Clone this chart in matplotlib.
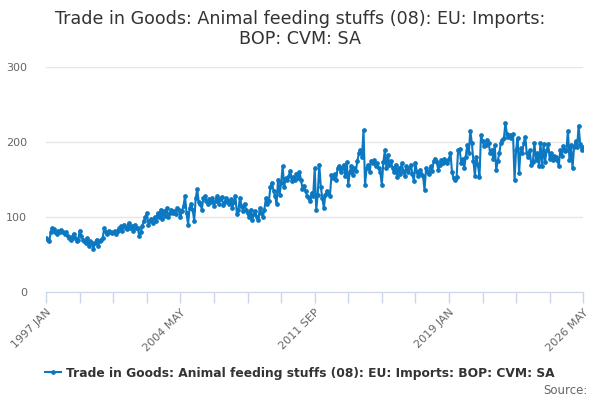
import matplotlib
matplotlib.use('Agg')
import matplotlib.pyplot as plt
import numpy as np

# monthly values, 1997 JAN .. 2026 MAY
y1997 = [72, 70, 68, 80, 85, 84, 80, 78, 82, 80, 83, 80]
y1998 = [78, 80, 75, 72, 70, 74, 78, 72, 68, 70, 82, 75]
y1999 = [70, 68, 65, 72, 62, 68, 65, 58, 66, 70, 62, 68]
y2000 = [70, 72, 85, 80, 78, 82, 80, 79, 80, 81, 78, 82]
y2001 = [85, 88, 82, 90, 86, 84, 92, 85, 88, 82, 90, 86]
y2002 = [85, 75, 80, 88, 95, 100, 105, 90, 95, 98, 92, 100]
y2003 = [95, 105, 100, 110, 98, 108, 102, 112, 100, 105, 110, 106]
y2004 = [108, 104, 112, 110, 100, 108, 115, 128, 105, 90, 112, 118]
y2005 = [110, 95, 125, 137, 120, 118, 110, 125, 128, 122, 118, 124]
y2006 = [120, 126, 115, 122, 128, 118, 124, 127, 116, 120, 125, 122]
y2007 = [118, 124, 112, 120, 128, 104, 110, 126, 115, 108, 118, 110]
y2008 = [105, 100, 110, 96, 104, 108, 100, 96, 112, 106, 100, 110]
y2009 = [125, 118, 122, 140, 146, 135, 128, 118, 150, 130, 145, 168]
y2010 = [140, 152, 150, 155, 162, 148, 154, 150, 158, 152, 160, 150]
y2011 = [138, 142, 135, 128, 125, 122, 132, 128, 165, 110, 130, 170]
y2012 = [140, 125, 112, 130, 135, 132, 128, 156, 152, 158, 150, 165]
y2013 = [168, 160, 165, 170, 155, 173, 143, 160, 168, 156, 165, 162]
y2014 = [175, 185, 189, 180, 216, 143, 165, 170, 160, 175, 172, 176]
y2015 = [168, 172, 165, 160, 143, 173, 189, 165, 183, 170, 175, 165]
y2016 = [160, 170, 153, 165, 158, 172, 162, 155, 168, 160, 165, 170]
y2017 = [158, 148, 172, 160, 155, 163, 158, 155, 136, 165, 160, 158]
y2018 = [168, 162, 175, 178, 173, 163, 170, 176, 172, 178, 175, 172]
y2019 = [178, 185, 160, 152, 150, 153, 189, 191, 172, 178, 165, 180]
y2020 = [196, 185, 215, 199, 175, 155, 180, 170, 153, 209, 201, 195]
y2021 = [196, 203, 199, 185, 190, 178, 196, 163, 175, 185, 199, 203]
y2022 = [205, 225, 211, 207, 209, 205, 211, 149, 189, 205, 159, 192]
y2023 = [185, 199, 207, 185, 180, 189, 169, 173, 199, 176, 185, 168]
y2024 = [199, 168, 197, 173, 189, 197, 178, 185, 176, 182, 180, 176]
y2025 = [168, 190, 181, 195, 188, 190, 215, 176, 196, 165, 193, 201]
y2026 = [193, 222, 197, 189, 193]

values = (y1997 + y1998 + y1999 + y2000 + y2001 + y2002 + y2003 + y2004 +
          y2005 + y2006 + y2007 + y2008 + y2009 + y2010 + y2011 + y2012 +
          y2013 + y2014 + y2015 + y2016 + y2017 + y2018 + y2019 + y2020 +
          y2021 + y2022 + y2023 + y2024 + y2025 + y2026)

tick_labels = ['1997 JAN', '2004 MAY', '2011 SEP', '2019 JAN', '2026 MAY']
series_name = 'Trade in Goods: Animal feeding stuffs (08): EU: Imports: BOP: CVM: SA'
title = 'Trade in Goods: Animal feeding stuffs (08): EU: Imports:\nBOP: CVM: SA'

line_color = '#0b78c1'
x = np.arange(len(values))

fig = plt.figure(figsize=(6, 4), dpi=100)
ax = fig.add_axes((0.077, 0.27, 0.895, 0.5625))

ax.plot(x, values, color=line_color, lw=1.5, marker='o', ms=2.4,
        label=series_name)

ax.set_xlim(0, len(values) - 1)
ax.set_ylim(0, 300)
ax.set_yticks([0, 100, 200, 300])
ax.grid(axis='y', color='#e6e6e6', lw=1)
ax.set_axisbelow(True)

# minor ticks every 22 months, labels every 88
ax.set_xticks(np.arange(0, len(values), 22), minor=True)
ax.set_xticks(np.arange(0, len(values), 88))
ax.set_xticklabels(tick_labels, rotation=45, ha='right', rotation_mode='anchor')
ax.tick_params(axis='x', which='both', length=8, color='#ccd6eb', width=1,
               labelsize=8, labelcolor='#666666', pad=3)
ax.tick_params(axis='y', length=0, labelsize=8, labelcolor='#666666', pad=14)

for s in ['top', 'right', 'left']:
    ax.spines[s].set_visible(False)
ax.spines['bottom'].set_color('#ccd6eb')

fig.text(0.5, 0.975, title, ha='center', va='top', fontsize=12.6,
         color='#333333', linespacing=1.15)

leg = fig.legend(loc='center', bbox_to_anchor=(0.5, 0.067), frameon=False,
                 handlelength=1.3, handletextpad=0.4,
                 prop={'weight': 'bold', 'size': 8.8})
for t in leg.get_texts():
    t.set_color('#333333')

fig.text(0.98, 0.025, 'Source:', ha='right', va='center', fontsize=8.5,
         color='#666666')

fig.savefig('out.png', dpi=100)
